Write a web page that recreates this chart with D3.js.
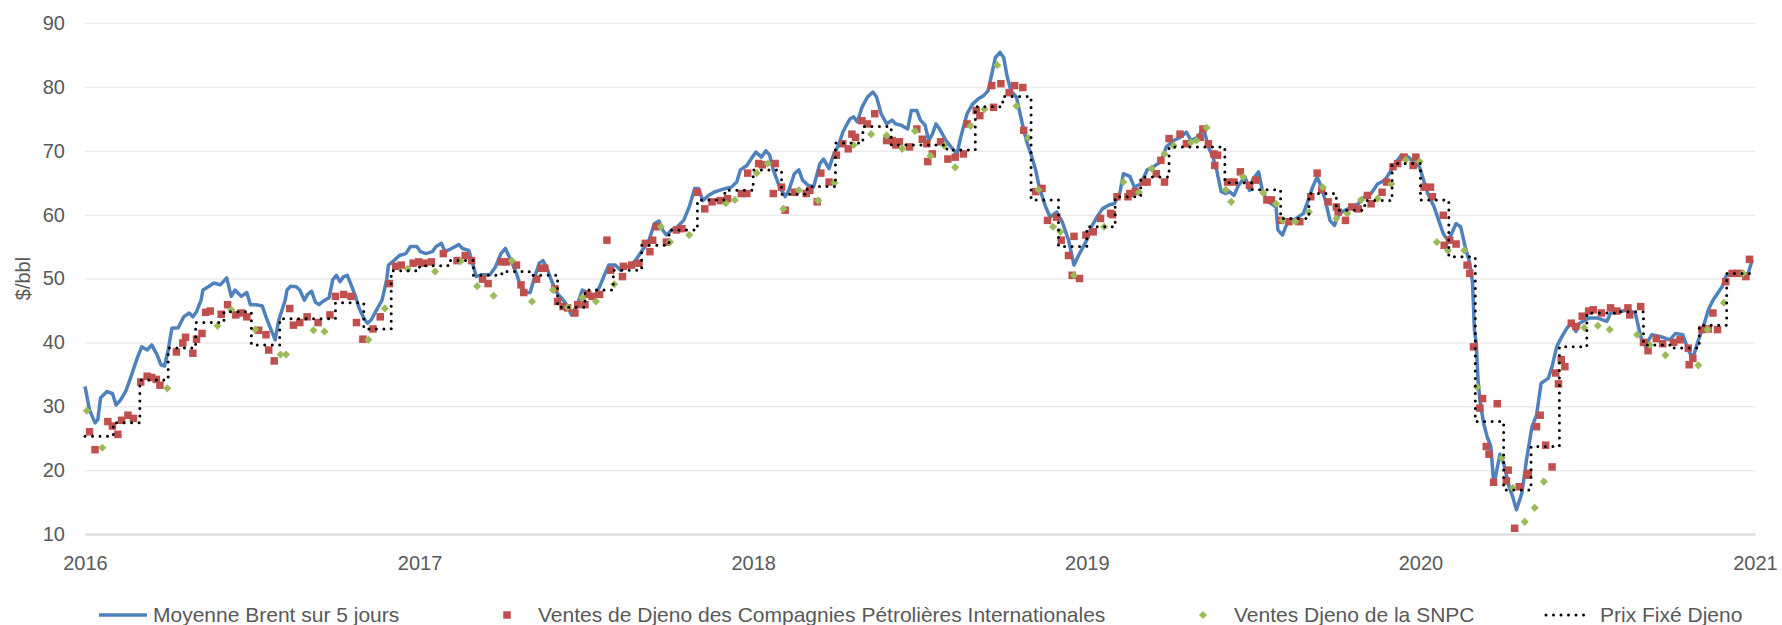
<!DOCTYPE html>
<html>
<head>
<meta charset="utf-8">
<script src="https://cdn.jsdelivr.net/npm/d3@7"></script>
<style>
  body { margin: 0; background: #ffffff; }
  svg text { font-family: "Liberation Sans", Arial, sans-serif; fill: #595959; }
</style>
</head>
<body>
<svg id="chart" width="1782" height="625"></svg>
<script>
// ---- Data --------------------------------------------------------------
const yTicks = [10, 20, 30, 40, 50, 60, 70, 80, 90];
const yearTicks = ["2016", "2017", "2018", "2019", "2020", "2021"];
const yAxisTitle = "$/bbl";
const seriesNames = [
  "Moyenne Brent sur 5 jours",
  "Ventes de Djeno des Compagnies Pétrolières Internationales",
  "Ventes Djeno de la SNPC",
  "Prix Fixé Djeno"
];

// Brent, 5-day moving average ($/bbl)
const brent5d = [
  ["2016-01-01",33.1],["2016-01-06",29.4],["2016-01-12",27.4],["2016-01-15",27.9],["2016-01-18",31.3],["2016-01-25",32.3],["2016-01-31",32.0],["2016-02-04",30.2],["2016-02-09",31.0],["2016-02-15",32.5],["2016-02-19",34.1],["2016-02-27",37.5],["2016-03-03",39.3],["2016-03-09",38.8],["2016-03-14",39.6],["2016-03-20",38.0],["2016-03-24",36.5],["2016-03-28",36.3],["2016-04-01",38.8],["2016-04-05",42.2],["2016-04-12",42.3],["2016-04-18",44.0],["2016-04-24",44.6],["2016-04-28",44.0],["2016-05-02",44.8],["2016-05-07",46.6],["2016-05-09",48.2],["2016-05-15",48.7],["2016-05-21",49.3],["2016-05-28",49.0],["2016-06-04",50.1],["2016-06-09",47.2],["2016-06-13",48.2],["2016-06-20",47.2],["2016-06-26",47.8],["2016-06-30",45.9],["2016-07-06",45.9],["2016-07-13",45.7],["2016-07-17",44.0],["2016-07-27",40.4],["2016-07-31",43.5],["2016-08-07",46.6],["2016-08-09",48.2],["2016-08-13",48.8],["2016-08-19",48.7],["2016-08-23",48.2],["2016-08-28",46.6],["2016-09-01",47.6],["2016-09-05",48.0],["2016-09-09",46.3],["2016-09-13",45.9],["2016-09-17",46.4],["2016-09-24",47.0],["2016-09-28",49.8],["2016-10-02",50.5],["2016-10-06",49.5],["2016-10-10",50.3],["2016-10-14",50.5],["2016-10-19",48.7],["2016-10-23",47.2],["2016-10-27",45.3],["2016-11-01",43.8],["2016-11-05",43.0],["2016-11-09",43.5],["2016-11-15",45.1],["2016-11-21",46.6],["2016-11-26",49.8],["2016-11-28",52.1],["2016-12-04",52.8],["2016-12-10",53.6],["2016-12-17",53.9],["2016-12-22",55.0],["2016-12-29",55.0],
  ["2017-01-02",54.2],["2017-01-08",53.9],["2017-01-15",54.2],["2017-01-19",55.0],["2017-01-25",55.5],["2017-01-29",54.2],["2017-02-05",54.7],["2017-02-13",55.3],["2017-02-17",54.7],["2017-02-24",54.4],["2017-02-28",52.4],["2017-03-04",50.3],["2017-03-10",50.6],["2017-03-19",50.6],["2017-03-25",51.8],["2017-03-31",53.9],["2017-04-05",54.7],["2017-04-11",52.8],["2017-04-17",50.8],["2017-04-21",49.0],["2017-04-27",47.8],["2017-05-02",47.8],["2017-05-06",49.8],["2017-05-12",52.4],["2017-05-16",52.8],["2017-05-20",51.8],["2017-05-25",49.8],["2017-05-31",47.8],["2017-06-06",46.8],["2017-06-12",45.7],["2017-06-16",44.3],["2017-06-22",45.7],["2017-06-28",48.2],["2017-07-04",47.8],["2017-07-11",47.0],["2017-07-17",48.7],["2017-07-23",50.8],["2017-07-27",52.1],["2017-08-03",52.1],["2017-08-09",51.3],["2017-08-15",51.8],["2017-08-21",52.1],["2017-08-28",53.4],["2017-09-03",54.7],["2017-09-09",56.0],["2017-09-15",58.6],["2017-09-20",59.0],["2017-09-24",57.6],["2017-09-28",56.8],["2017-10-04",57.6],["2017-10-10",58.1],["2017-10-17",59.1],["2017-10-23",61.2],["2017-10-29",64.1],["2017-11-02",64.1],["2017-11-07",62.2],["2017-11-13",63.0],["2017-11-19",63.5],["2017-11-25",63.8],["2017-12-02",64.1],["2017-12-08",64.3],["2017-12-14",65.1],["2017-12-18",67.0],["2017-12-25",67.7],["2017-12-31",69.0],
  ["2018-01-04",69.8],["2018-01-10",69.0],["2018-01-15",70.0],["2018-01-19",69.3],["2018-01-23",67.0],["2018-01-30",64.3],["2018-02-05",62.8],["2018-02-09",63.8],["2018-02-15",66.4],["2018-02-20",67.0],["2018-02-24",65.4],["2018-03-02",64.6],["2018-03-08",64.3],["2018-03-15",68.0],["2018-03-19",68.7],["2018-03-25",67.2],["2018-03-29",69.0],["2018-04-05",71.1],["2018-04-09",72.9],["2018-04-13",74.0],["2018-04-17",75.0],["2018-04-21",75.3],["2018-04-25",74.5],["2018-04-30",76.8],["2018-05-06",78.4],["2018-05-12",79.2],["2018-05-16",78.4],["2018-05-21",75.8],["2018-05-27",74.2],["2018-06-02",74.8],["2018-06-06",74.2],["2018-06-12",74.0],["2018-06-19",73.4],["2018-06-23",76.3],["2018-06-29",76.3],["2018-07-03",74.8],["2018-07-08",74.0],["2018-07-12",71.6],["2018-07-16",72.6],["2018-07-20",74.2],["2018-07-24",73.4],["2018-07-31",71.6],["2018-08-06",70.5],["2018-08-12",69.5],["2018-08-16",72.1],["2018-08-23",75.8],["2018-08-29",77.3],["2018-09-04",78.1],["2018-09-10",78.6],["2018-09-15",79.4],["2018-09-19",82.0],["2018-09-23",84.6],["2018-09-28",85.4],["2018-10-02",84.6],["2018-10-06",81.5],["2018-10-10",79.4],["2018-10-16",78.4],["2018-10-20",75.8],["2018-10-24",73.2],["2018-10-28",71.1],["2018-11-02",69.0],["2018-11-06",67.0],["2018-11-10",64.3],["2018-11-17",61.2],["2018-11-22",59.6],["2018-11-29",60.4],["2018-12-05",58.9],["2018-12-12",56.0],["2018-12-18",52.1],["2018-12-24",53.9],
  ["2019-01-01",56.0],["2019-01-06",58.1],["2019-01-12",59.6],["2019-01-18",60.9],["2019-01-25",61.5],["2019-01-31",61.7],["2019-02-06",63.3],["2019-02-10",66.4],["2019-02-17",66.0],["2019-02-22",64.3],["2019-03-01",64.8],["2019-03-08",67.0],["2019-03-15",67.5],["2019-03-23",68.3],["2019-03-29",70.6],["2019-04-06",71.6],["2019-04-13",72.1],["2019-04-20",72.9],["2019-04-25",71.6],["2019-05-02",72.1],["2019-05-09",73.4],["2019-05-14",70.6],["2019-05-19",69.0],["2019-05-23",67.0],["2019-05-28",63.6],["2019-06-02",63.3],["2019-06-06",63.6],["2019-06-11",63.0],["2019-06-16",64.6],["2019-06-23",65.9],["2019-06-28",63.8],["2019-07-02",65.6],["2019-07-08",66.7],["2019-07-12",63.8],["2019-07-17",62.2],["2019-07-22",61.7],["2019-07-27",61.2],["2019-07-29",57.6],["2019-08-03",56.8],["2019-08-08",58.6],["2019-08-12",58.9],["2019-08-20",59.6],["2019-08-26",60.2],["2019-08-31",62.2],["2019-09-05",64.3],["2019-09-10",65.9],["2019-09-15",64.1],["2019-09-19",62.2],["2019-09-24",59.1],["2019-09-29",58.3],["2019-10-04",60.2],["2019-10-11",60.7],["2019-10-18",61.2],["2019-10-25",61.7],["2019-11-01",62.8],["2019-11-08",63.3],["2019-11-15",64.8],["2019-11-23",65.4],["2019-11-29",66.7],["2019-12-07",68.5],["2019-12-11",69.3],["2019-12-19",69.0],["2019-12-26",68.0],["2019-12-31",67.5],
  ["2020-01-05",65.1],["2020-01-09",63.3],["2020-01-16",61.2],["2020-01-21",59.1],["2020-01-26",57.0],["2020-01-31",56.0],["2020-02-04",57.0],["2020-02-09",58.6],["2020-02-14",58.1],["2020-02-19",54.9],["2020-02-24",52.4],["2020-02-27",49.3],["2020-02-29",42.0],["2020-03-02",39.9],["2020-03-04",34.1],["2020-03-06",31.0],["2020-03-10",27.4],["2020-03-14",25.2],["2020-03-18",23.7],["2020-03-21",18.2],["2020-03-23",18.9],["2020-03-28",22.5],["2020-04-01",21.1],["2020-04-07",17.4],["2020-04-11",15.8],["2020-04-15",13.8],["2020-04-21",16.4],["2020-04-26",21.6],["2020-05-02",26.8],["2020-05-07",28.6],["2020-05-12",33.6],["2020-05-17",34.1],["2020-05-20",34.4],["2020-05-24",36.2],["2020-05-29",39.3],["2020-06-03",40.7],["2020-06-09",42.2],["2020-06-14",43.0],["2020-06-19",41.7],["2020-06-23",43.0],["2020-07-03",43.8],["2020-07-13",43.8],["2020-07-23",43.3],["2020-07-27",44.6],["2020-08-06",44.8],["2020-08-15",45.1],["2020-08-23",44.6],["2020-08-29",40.9],["2020-09-03",39.4],["2020-09-10",41.2],["2020-09-20",40.9],["2020-09-30",40.4],["2020-10-06",41.4],["2020-10-14",41.2],["2020-10-20",38.8],["2020-10-25",37.5],["2020-10-30",39.9],["2020-11-06",42.7],["2020-11-11",45.1],["2020-11-16",46.6],["2020-11-26",48.7],["2020-11-30",50.3],["2020-12-10",51.1],["2020-12-19",50.8],["2020-12-24",50.6],["2020-12-29",52.9]
];

// Djeno cargo sales by international oil companies ($/bbl)
const iocSales = [
  ["2016-01-06",26.0],["2016-01-12",23.2],["2016-01-26",27.6],["2016-01-31",26.9],["2016-02-06",25.6],["2016-02-10",27.8],["2016-02-17",28.6],["2016-02-23",28.1],["2016-03-02",33.8],["2016-03-09",34.7],["2016-03-14",34.5],["2016-03-19",34.2],["2016-03-23",33.3],["2016-04-10",38.5],["2016-04-17",39.9],["2016-04-20",40.8],["2016-04-28",38.3],["2016-05-02",40.5],["2016-05-08",41.4],["2016-05-12",44.7],["2016-05-17",44.9],["2016-05-29",44.4],["2016-06-05",45.9],["2016-06-14",44.3],["2016-06-20",44.6],["2016-06-26",44.0],["2016-07-09",41.9],["2016-07-17",41.2],["2016-07-20",38.8],["2016-07-26",37.1],["2016-08-12",45.3],["2016-08-16",42.7],["2016-08-23",43.1],["2016-08-31",44.0],["2016-09-12",43.1],["2016-09-25",44.3],["2016-10-01",47.2],["2016-10-10",47.5],["2016-10-18",47.2],["2016-10-24",43.1],["2016-10-31",40.5],["2016-11-11",42.1],["2016-11-19",44.0],["2016-11-29",49.2],["2016-12-06",51.9],["2016-12-12",52.1],["2016-12-25",52.4],["2016-12-31",52.6],
  ["2017-01-06",52.4],["2017-01-14",52.6],["2017-01-27",53.9],["2017-02-11",52.8],["2017-02-20",53.6],["2017-02-27",52.8],["2017-03-11",49.9],["2017-03-17",49.2],["2017-04-01",52.6],["2017-04-06",52.6],["2017-04-17",52.1],["2017-04-22",49.0],["2017-04-25",47.8],["2017-05-09",49.9],["2017-05-14",51.6],["2017-05-18",51.6],["2017-05-29",48.4],["2017-06-01",46.4],["2017-06-07",45.6],["2017-06-12",45.4],["2017-06-20",44.6],["2017-06-23",45.9],["2017-07-01",45.9],["2017-07-04",47.5],["2017-07-09",47.2],["2017-07-17",47.5],["2017-07-25",56.0],["2017-07-29",51.3],["2017-08-11",50.3],["2017-08-12",51.9],["2017-08-21",52.1],["2017-08-29",52.4],["2017-09-05",55.5],["2017-09-10",54.2],["2017-09-13",56.0],["2017-09-17",58.1],["2017-09-28",55.7],["2017-10-09",57.6],["2017-10-15",57.8],["2017-11-01",63.5],["2017-11-09",60.9],["2017-11-17",62.0],["2017-11-26",62.2],["2017-12-04",62.5],["2017-12-19",63.3],["2017-12-25",63.3],["2017-12-26",66.5],
  ["2018-01-07",68.0],["2018-01-11",67.8],["2018-01-23",63.3],["2018-01-25",68.0],["2018-02-01",64.3],["2018-02-05",60.7],["2018-02-15",63.5],["2018-02-28",63.3],["2018-03-04",63.8],["2018-03-12",62.0],["2018-03-16",66.5],["2018-03-25",65.1],["2018-04-02",69.3],["2018-04-09",71.1],["2018-04-15",70.3],["2018-04-19",72.6],["2018-04-23",72.1],["2018-04-30",74.7],["2018-05-06",74.2],["2018-05-14",75.8],["2018-05-27",71.6],["2018-06-02",71.6],["2018-06-06",70.9],["2018-06-10",71.4],["2018-06-21",70.6],["2018-06-29",73.4],["2018-07-05",71.8],["2018-07-10",71.1],["2018-07-11",68.3],["2018-07-16",69.5],["2018-07-25",71.4],["2018-08-02",68.7],["2018-08-10",69.0],["2018-08-19",69.5],["2018-08-23",74.2],["2018-09-02",76.3],["2018-09-06",75.5],["2018-09-19",80.2],["2018-09-21",76.8],["2018-09-29",80.5],["2018-10-08",79.1],["2018-10-14",80.2],["2018-10-23",79.9],["2018-10-24",73.2],["2018-11-06",63.6],["2018-11-13",64.1],["2018-11-19",59.1],["2018-11-29",59.6],["2018-12-04",56.0],["2018-12-12",53.6],["2018-12-16",50.5],["2018-12-18",56.6],["2018-12-24",50.0],["2018-12-31",56.8],
  ["2019-01-08",57.3],["2019-01-16",59.4],["2019-01-27",60.2],["2019-01-29",60.0],["2019-02-03",62.8],["2019-02-15",62.8],["2019-02-17",63.3],["2019-02-23",63.6],["2019-03-04",65.1],["2019-03-08",65.1],["2019-03-18",66.4],["2019-03-23",68.5],["2019-03-27",65.1],["2019-04-01",71.9],["2019-04-13",72.6],["2019-04-20",71.1],["2019-05-05",72.1],["2019-05-08",73.4],["2019-05-14",71.1],["2019-05-20",69.5],["2019-05-21",67.7],["2019-05-24",69.3],["2019-06-04",65.1],["2019-06-11",65.1],["2019-06-18",66.7],["2019-06-28",64.6],["2019-07-05",65.4],["2019-07-17",62.3],["2019-07-22",62.3],["2019-08-01",59.1],["2019-08-10",58.9],["2019-08-22",58.9],["2019-09-03",62.8],["2019-09-10",66.5],["2019-09-15",63.9],["2019-09-22",62.0],["2019-10-01",61.2],["2019-10-03",60.4],["2019-10-11",59.1],["2019-10-18",61.2],["2019-10-25",60.9],["2019-11-04",63.0],["2019-11-08",61.7],["2019-11-20",63.5],["2019-11-25",65.1],["2019-12-02",67.5],["2019-12-07",68.0],["2019-12-14",69.0],["2019-12-24",67.7],["2019-12-27",69.0],
  ["2020-01-05",64.3],["2020-01-12",64.3],["2020-01-14",62.8],["2020-01-26",59.9],["2020-01-27",55.2],["2020-02-02",56.0],["2020-02-09",55.4],["2020-02-21",52.1],["2020-02-24",50.8],["2020-02-28",39.3],["2020-03-06",29.7],["2020-03-09",31.2],["2020-03-13",23.7],["2020-03-16",22.5],["2020-03-21",18.1],["2020-03-25",30.4],["2020-04-04",18.3],["2020-04-06",20.0],["2020-04-13",10.9],["2020-04-18",17.4],["2020-04-27",19.2],["2020-04-28",19.5],["2020-05-07",26.8],["2020-05-11",28.6],["2020-05-17",23.9],["2020-05-24",20.5],["2020-05-28",35.2],["2020-05-31",33.5],["2020-06-03",37.3],["2020-06-07",36.2],["2020-06-14",43.0],["2020-06-19",42.5],["2020-06-26",44.1],["2020-07-03",44.9],["2020-07-08",45.1],["2020-07-17",44.6],["2020-07-27",45.4],["2020-08-03",44.9],["2020-08-15",45.4],["2020-08-17",44.3],["2020-08-29",45.6],["2020-09-01",40.0],["2020-09-06",38.7],["2020-09-15",40.6],["2020-09-22",39.8],["2020-10-04",40.0],["2020-10-11",40.4],["2020-10-20",39.1],["2020-10-21",36.5],["2020-10-25",37.5],["2020-11-04",42.0],["2020-11-11",42.1],["2020-11-16",44.6],["2020-11-21",42.0],["2020-11-30",49.5],["2020-12-07",50.8],["2020-12-14",50.8],["2020-12-22",50.3],["2020-12-26",53.0]
];

// Djeno cargo sales by SNPC ($/bbl)
const snpcSales = [
  ["2016-01-03",29.3],["2016-01-20",23.5],["2016-03-31",32.8],["2016-05-25",42.6],["2016-06-09",45.1],["2016-07-05",42.0],["2016-08-02",38.1],["2016-08-08",38.1],["2016-09-07",41.9],["2016-09-19",41.7],["2016-11-06",40.4],["2016-11-24",45.3],["2016-12-19",51.5],
  ["2017-01-18",51.1],["2017-02-15",52.7],["2017-03-05",48.8],["2017-03-23",47.3],["2017-04-12",52.8],["2017-05-04",46.4],["2017-05-27",48.2],["2017-06-12",45.5],["2017-06-28",47.0],["2017-07-13",46.4],["2017-08-02",49.1],["2017-09-22",58.1],["2017-10-02",55.7],["2017-10-23",56.8],["2017-12-02",61.8],["2017-12-12",62.3],
  ["2018-01-05",66.5],["2018-01-17",68.0],["2018-02-03",60.9],["2018-02-20",63.8],["2018-03-13",62.2],["2018-03-31",65.0],["2018-04-21",70.9],["2018-05-10",72.6],["2018-05-27",72.4],["2018-06-13",70.3],["2018-06-27",73.1],["2018-07-14",69.2],["2018-07-29",70.8],["2018-08-10",67.4],["2018-08-27",73.9],["2018-09-11",76.5],["2018-09-25",83.4],["2018-10-16",77.0],["2018-10-29",72.0],["2018-11-09",63.9],["2018-11-25",58.1],["2018-12-03",57.3],["2018-12-18",50.5],
  ["2019-01-20",58.1],["2019-02-10",65.1],["2019-02-27",63.5],["2019-03-13",67.2],["2019-03-27",69.5],["2019-04-06",70.8],["2019-04-25",71.3],["2019-05-01",71.6],["2019-05-12",73.6],["2019-06-02",63.9],["2019-06-08",62.0],["2019-06-21",65.9],["2019-07-13",63.4],["2019-07-27",61.7],["2019-08-03",59.1],["2019-08-17",58.9],["2019-09-01",60.4],["2019-09-16",64.3],["2019-10-01",59.4],["2019-10-13",60.2],["2019-10-28",62.3],["2019-11-15",62.5],["2019-11-30",64.8],["2019-12-16",68.6],["2019-12-31",68.3],
  ["2020-01-19",55.7],["2020-01-31",54.4],["2020-02-18",54.4],["2020-03-03",33.0],["2020-03-30",21.9],["2020-04-11",17.2],["2020-04-24",11.9],["2020-05-05",14.1],["2020-05-15",18.2],["2020-06-28",42.3],["2020-07-13",42.6],["2020-07-26",42.0],["2020-08-25",41.2],["2020-09-08",39.6],["2020-09-25",38.0],["2020-10-31",36.4],["2020-11-10",42.0],["2020-11-28",46.2],["2020-12-19",50.8]
];

// Djeno fixed price, one value per month ($/bbl)
const djenoFixed = [
  ["2016-01",25.3],["2016-02",27.4],["2016-03",34.1],["2016-04",39.1],["2016-05",43.1],["2016-06",44.8],["2016-07",39.6],["2016-08",43.7],["2016-09",43.7],["2016-10",46.2],["2016-11",42.1],["2016-12",51.2],
  ["2017-01",52.0],["2017-02",52.8],["2017-03",50.5],["2017-04",51.1],["2017-05",50.5],["2017-06",45.5],["2017-07",48.2],["2017-08",51.3],["2017-09",55.2],["2017-10",57.6],["2017-11",62.3],["2017-12",63.8],
  ["2018-01",67.0],["2018-02",63.2],["2018-03",64.4],["2018-04",71.2],["2018-05",73.8],["2018-06",70.9],["2018-07",70.9],["2018-08",70.1],["2018-09",76.9],["2018-10",78.5],["2018-11",62.3],["2018-12",55.0],
  ["2019-01",58.1],["2019-02",62.8],["2019-03",65.9],["2019-04",70.6],["2019-05",70.6],["2019-06",65.0],["2019-07",63.9],["2019-08",59.4],["2019-09",63.3],["2019-10",60.7],["2019-11",62.2],["2019-12",68.0],
  ["2020-01",62.3],["2020-02",53.4],["2020-03",27.6],["2020-04",16.9],["2020-05",23.7],["2020-06",39.3],["2020-07",44.6],["2020-08",44.8],["2020-09",39.6],["2020-10",39.1],["2020-11",42.7],["2020-12",50.8]
];

// ---- Chart ---------------------------------------------------------------
const parseDay = d3.timeParse("%Y-%m-%d");
const parseMonth = d3.timeParse("%Y-%m");
const parseYear = d3.timeParse("%Y");

const colors = { brent: "#4F81BD", ioc: "#C0504D", snpc: "#9BBB59", fixed: "#000000" };
const plot = { left: 85, right: 1755, top: 23, bottom: 534 };

const years = yearTicks.map(parseYear);
const x = d3.scaleTime()
  .domain([years[0], years[years.length - 1]])
  .range([plot.left, plot.right]);
const y = d3.scaleLinear()
  .domain([d3.min(yTicks), d3.max(yTicks)])
  .range([plot.bottom, plot.top]);

const svg = d3.select("#chart");

// Horizontal gridlines + value labels
const yAxis = svg.append("g")
  .attr("transform", `translate(${plot.left},0)`)
  .call(d3.axisLeft(y).tickValues(yTicks).tickSize(-(plot.right - plot.left)).tickPadding(20).tickFormat(d3.format("d")));
yAxis.select(".domain").remove();
yAxis.selectAll(".tick line").attr("stroke", "#ebebeb").attr("stroke-width", 1.5);
yAxis.selectAll(".tick text").attr("font-size", 20).style("font-family", null);

// Time axis along the bottom
const xAxis = svg.append("g")
  .attr("transform", `translate(0,${plot.bottom})`)
  .call(d3.axisBottom(x).tickValues(years).tickSize(0).tickSizeOuter(0).tickPadding(22).tickFormat(d3.timeFormat("%Y")));
xAxis.select(".domain").attr("stroke", "#d9d9d9").attr("stroke-width", 1.8);
xAxis.selectAll(".tick text").attr("font-size", 20).style("font-family", null);

// Axis title
svg.append("text")
  .attr("transform", `translate(30,${(plot.top + plot.bottom) / 2}) rotate(-90)`)
  .attr("text-anchor", "middle")
  .attr("font-size", 20)
  .text(yAxisTitle);

// Brent line
const brentLine = d3.line()
  .x(d => x(parseDay(d[0])))
  .y(d => y(d[1]));
svg.append("path")
  .datum(brent5d)
  .attr("fill", "none")
  .attr("stroke", colors.brent)
  .attr("stroke-width", 3.5)
  .attr("stroke-linejoin", "round")
  .attr("d", brentLine);

// IOC sales: red squares
const sq = 7.5;
svg.append("g").selectAll("rect")
  .data(iocSales)
  .join("rect")
  .attr("x", d => x(parseDay(d[0])) - sq / 2)
  .attr("y", d => y(d[1]) - sq / 2)
  .attr("width", sq)
  .attr("height", sq)
  .attr("fill", colors.ioc);

// SNPC sales: green diamonds
const diamond = d3.symbol().type(d3.symbolDiamond2).size(42);
svg.append("g").selectAll("path")
  .data(snpcSales)
  .join("path")
  .attr("transform", d => `translate(${x(parseDay(d[0]))},${y(d[1])})`)
  .attr("d", diamond)
  .attr("fill", colors.snpc);

// Monthly fixed price: dotted step line (last month held to the end of the year)
const fixedPoints = djenoFixed.map(d => [parseMonth(d[0]), d[1]]);
fixedPoints.push([d3.timeMonth.offset(fixedPoints[fixedPoints.length - 1][0], 1), fixedPoints[fixedPoints.length - 1][1]]);
const stepLine = d3.line()
  .curve(d3.curveStepAfter)
  .x(d => x(d[0]))
  .y(d => y(d[1]));
svg.append("path")
  .datum(fixedPoints)
  .attr("fill", "none")
  .attr("stroke", colors.fixed)
  .attr("stroke-width", 3)
  .attr("stroke-linecap", "round")
  .attr("stroke-dasharray", "0 7.5")
  .attr("d", stepLine);

// Legend
const legendY = 615;
const legendItems = [
  { name: seriesNames[0], kind: "line",    color: colors.brent, mx: 123,  tx: 153 },
  { name: seriesNames[1], kind: "square",  color: colors.ioc,   mx: 507,  tx: 538 },
  { name: seriesNames[2], kind: "diamond", color: colors.snpc,  mx: 1203, tx: 1234 },
  { name: seriesNames[3], kind: "dotted",  color: colors.fixed, mx: 1568, tx: 1600 }
];
const legend = svg.append("g");
legendItems.forEach(item => {
  const g = legend.append("g");
  if (item.kind === "line") {
    g.append("line").attr("x1", item.mx - 24).attr("x2", item.mx + 24)
      .attr("y1", legendY).attr("y2", legendY)
      .attr("stroke", item.color).attr("stroke-width", 3.5);
  } else if (item.kind === "square") {
    g.append("rect").attr("x", item.mx - sq / 2).attr("y", legendY - sq / 2)
      .attr("width", sq).attr("height", sq).attr("fill", item.color);
  } else if (item.kind === "diamond") {
    g.append("path").attr("transform", `translate(${item.mx},${legendY})`)
      .attr("d", diamond).attr("fill", item.color);
  } else {
    g.append("line").attr("x1", item.mx - 22).attr("x2", item.mx + 23)
      .attr("y1", legendY).attr("y2", legendY)
      .attr("stroke", item.color).attr("stroke-width", 3)
      .attr("stroke-linecap", "round").attr("stroke-dasharray", "0 7.5");
  }
  g.append("text")
    .attr("x", item.tx)
    .attr("y", legendY)
    .attr("dy", "0.35em")
    .attr("font-size", 21)
    .text(item.name);
});
</script>
</body>
</html>
